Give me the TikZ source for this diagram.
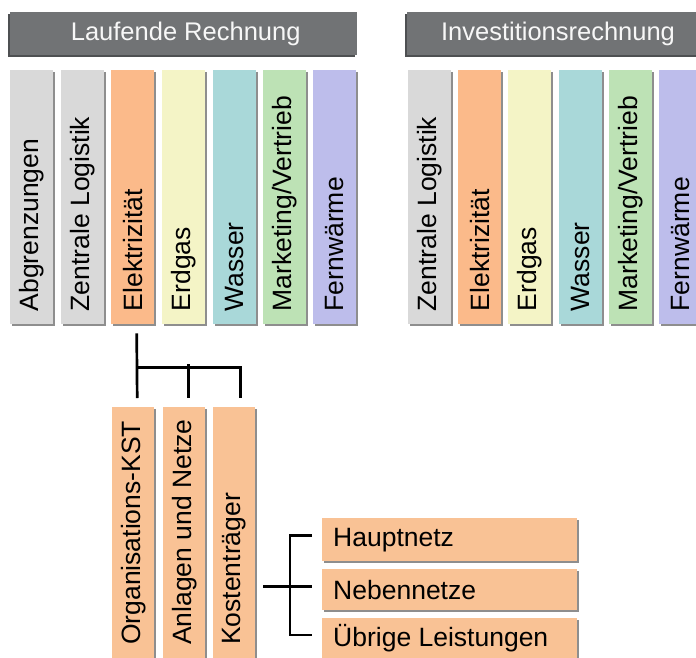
\documentclass[tikz,border=0pt]{standalone}
\usepackage{fontspec}
\setmainfont{Liberation Sans}
\usetikzlibrary{shadows,calc}
\definecolor{hdr}{HTML}{717375}
\definecolor{hdrsh}{HTML}{4E5052}
\definecolor{cgray}{HTML}{D9D9D9}
\definecolor{corange}{HTML}{FBBA8A}
\definecolor{cbox}{HTML}{F9C295}
\definecolor{cyellow}{HTML}{F4F4C6}
\definecolor{cblue}{HTML}{A9D8D9}
\definecolor{cgreen}{HTML}{BDE2B5}
\definecolor{cviolet}{HTML}{BDBDEB}
\definecolor{shcol}{HTML}{8E8E8E}
\tikzset{
  hdrbox/.style={draw=none, fill=hdr, anchor=north west, minimum width=#1, minimum height=43pt,
    inner sep=0pt,
    general shadow={shadow xshift=-2pt, shadow yshift=-2pt, fill=hdrsh}},
  hdrtext/.style={text=white!94!gray, font=\fontsize{25.5}{28}\selectfont},
  colbox/.style={draw=none, fill=#1, anchor=north west, minimum width=43pt, minimum height=254pt,
    inner sep=0pt, general shadow={shadow xshift=1.5pt, shadow yshift=-1.5pt, fill=shcol}},
  subbox/.style={draw=none, fill=cbox, anchor=north west, minimum width=42pt, minimum height=270pt,
    inner sep=0pt, general shadow={shadow xshift=1.5pt, shadow yshift=-1.5pt, fill=shcol}},
  rowbox/.style={draw=none, fill=cbox, anchor=north west, minimum width=255pt, minimum height=#1,
    inner sep=0pt, general shadow={shadow xshift=1.5pt, shadow yshift=-1.5pt, fill=shcol}},
  vlab/.style={rotate=90, anchor=west, inner sep=0pt, font=\fontsize{26.5}{28}\selectfont},
  hlab/.style={anchor=west, inner sep=0pt, font=\fontsize{26.5}{28}\selectfont},
  conn/.style={line width=2.7pt, black},
}
\begin{document}
\begin{tikzpicture}[x=1pt,y=-1pt]
\useasboundingbox (0,0) rectangle (696,657);
\clip (0,0) rectangle (696,657);
\fill[white] (0,0) rectangle (696,657);
% headers
\node[hdrbox=347pt] (h1) at (10,12) {};
\node[hdrtext] at ($(h1.center)+(2,0)$) {Laufende Rechnung};
\node[hdrbox=300pt] (h2) at (407,12) {};
\node[hdrtext] at ($(h2.west)+(151,0)$) {Investitionsrechnung};
% left group columns
\node[colbox=cgray]   (a1) at (10,70) {};
\node[colbox=cgray]   (a2) at (61,70) {};
\node[colbox=corange] (a3) at (111,70) {};
\node[colbox=cyellow] (a4) at (162,70) {};
\node[colbox=cblue]   (a5) at (213,70) {};
\node[colbox=cgreen]  (a6) at (263,70) {};
\node[colbox=cviolet] (a7) at (313,70) {};
\node[vlab] at ([yshift=13pt]a1.south) {Abgrenzungen};
\node[vlab] at ([yshift=13pt]a2.south) {Zentrale Logistik};
\node[vlab] at ([yshift=13pt]a3.south) {Elektrizität};
\node[vlab] at ([yshift=13pt]a4.south) {Erdgas};
\node[vlab] at ([yshift=13pt]a5.south) {Wasser};
\node[vlab] at ([yshift=13pt]a6.south) {Marketing/Vertrieb};
\node[vlab] at ([yshift=13pt]a7.south) {Fernwärme};
% right group columns
\node[colbox=cgray]   (b2) at (408,70) {};
\node[colbox=corange] (b3) at (458,70) {};
\node[colbox=cyellow] (b4) at (508,70) {};
\node[colbox=cblue]   (b5) at (559,70) {};
\node[colbox=cgreen]  (b6) at (609,70) {};
\node[colbox=cviolet] (b7) at (659,70) {};
\node[vlab] at ([yshift=13pt]b2.south) {Zentrale Logistik};
\node[vlab] at ([yshift=13pt]b3.south) {Elektrizität};
\node[vlab] at ([yshift=13pt]b4.south) {Erdgas};
\node[vlab] at ([yshift=13pt]b5.south) {Wasser};
\node[vlab] at ([yshift=13pt]b6.south) {Marketing/Vertrieb};
\node[vlab] at ([yshift=13pt]b7.south) {Fernwärme};
% sub columns of Elektrizitaet
\node[subbox] (s1) at (112,407) {};
\node[subbox] (s2) at (163,407) {};
\node[subbox] (s3) at (213,407) {};
\node[vlab] at ($(s1.north)+(0,238)$) {Organisations-KST};
\node[vlab] at ($(s2.north)+(0,238)$) {Anlagen und Netze};
\node[vlab] at ($(s3.north)+(0,238)$) {Kostenträger};
% rows of Kostentraeger
\node[rowbox=43pt] (r1) at (322,518) {};
\node[rowbox=41pt] (r2) at (322,569) {};
\node[rowbox=45pt] (r3) at (322,618) {};
\node[hlab] at ([xshift=11pt]r1.west) {Hauptnetz};
\node[hlab] at ([xshift=11pt]r2.west) {Nebennetze};
\node[hlab] at ($(r3.north west)+(11,20)$) {Übrige Leistungen};
% connectors
\coordinate (t0) at ($(a3.south)+(4,9)$);
\coordinate (j0) at ($(a3.south)+(4,43)$);
\draw[conn] (t0) -- ($(s1.north)+(4,-9)$);
\draw[conn] (j0) -| ($(s3.north)+(6,-9)$);
\draw[conn] ($(s2.north)+(4,-43)$) -- ($(s2.north)+(4,-9)$);
\coordinate (k0) at ($(s3.east |- r2.west)+(8,-3)$);
\draw[conn] (k0) -- ($(r2.west)+(-10,-3)$);
\draw[conn] ($(r1.west)+(-10,-4)$) -| ($(r3.north west)+(-32,17)$) -- ($(r3.north west)+(-10,17)$);
\end{tikzpicture}
\end{document}
